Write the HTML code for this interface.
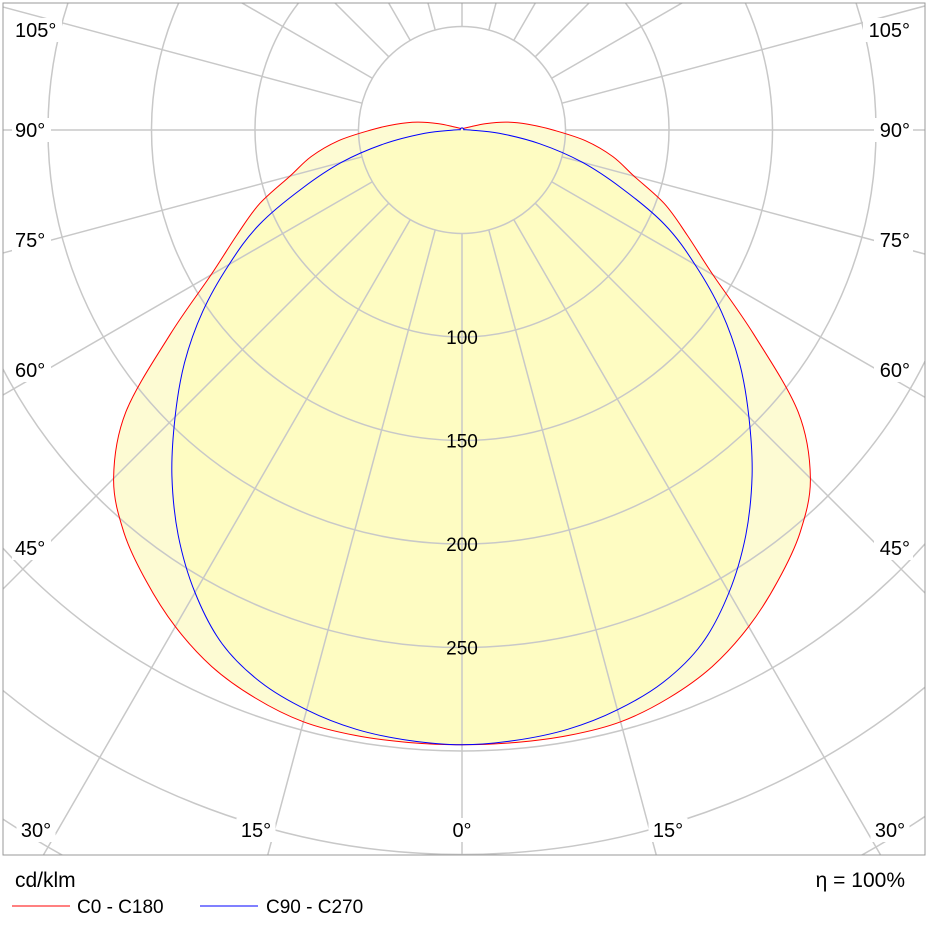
<!DOCTYPE html>
<html><head><meta charset="utf-8"><style>
html,body{margin:0;padding:0;background:#fff;width:927px;height:926px;overflow:hidden;}
svg{display:block;position:absolute;left:0;top:0;font-family:"Liberation Sans",sans-serif;}
</style></head><body>
<svg id="chart" width="927" height="926" viewBox="0 0 927 926" xmlns="http://www.w3.org/2000/svg">
<defs><clipPath id="clip"><rect x="3" y="3" width="922" height="852"/></clipPath></defs>
<rect x="0" y="0" width="927" height="926" fill="#fff"/>
<g id="plot" clip-path="url(#clip)"></g>
<rect x="3" y="3" width="922" height="852" fill="none" stroke="#999" stroke-width="1"/>
<g id="labels"></g>
<text x="15" y="887" font-size="21" fill="#000">cd/klm</text>
<text x="905" y="887" font-size="21" fill="#000" text-anchor="end">η =  100%</text>
<line x1="12" y1="906" x2="70" y2="906" stroke="#f00" stroke-width="1"/>
<text x="77" y="913" font-size="19">C0 - C180</text>
<line x1="200" y1="906" x2="258" y2="906" stroke="#00f" stroke-width="1"/>
<text x="266" y="913" font-size="19">C90 - C270</text>
</svg>
<script>
const angles = [0,5,10,15,20,25,30,35,40,45,50,55,60,65,70,75,80,85,90,95,100,105,110,120,140,160,180];
const seriesC0 = [297,297,297,296,292,286,277,266,254,238,212,172,140,120,104,86,74,60,44,32,22,12,5,2,1,1,1];
const seriesC90 = [297,296,294,290,284,274,258,239,218,196,175,153,130,108,82,60,38,18,4,1,1,1,1,1,1,1,1];
const ringValues = [50,100,150,200,250,300,350,400,450,500];
const ringLabels = ["100","150","200","250"];
const angleLabelsSide = ["105°","90°","75°","60°","45°"];
const angleLabelsBottom = ["30°","15°","0°","15°","30°"];

const NS="http://www.w3.org/2000/svg";
const cx=462, cy=130, k=2.07;
const rS=v=>v*k;
function pt(a,v,side){const t=a*Math.PI/180;return [cx+side*rS(v)*Math.sin(t), cy+rS(v)*Math.cos(t)];}
function mk(tag,attrs,parent){const e=document.createElementNS(NS,tag);for(const k in attrs)e.setAttribute(k,attrs[k]);parent.appendChild(e);return e;}
const plot=document.getElementById('plot');
function curvePath(vals){
  const p=[];
  for(let i=0;i<angles.length;i++)p.push(pt(angles[i],vals[i],1));
  for(let i=angles.length-2;i>0;i--)p.push(pt(angles[i],vals[i],-1));
  const n=p.length;
  let d='M'+p[0][0].toFixed(1)+','+p[0][1].toFixed(1);
  for(let i=0;i<n;i++){
    const p0=p[(i-1+n)%n],p1=p[i],p2=p[(i+1)%n],p3=p[(i+2)%n];
    const c1=[p1[0]+(p2[0]-p0[0])/6,p1[1]+(p2[1]-p0[1])/6];
    const c2=[p2[0]-(p3[0]-p1[0])/6,p2[1]-(p3[1]-p1[1])/6];
    d+='C'+c1[0].toFixed(1)+','+c1[1].toFixed(1)+' '+c2[0].toFixed(1)+','+c2[1].toFixed(1)+' '+p2[0].toFixed(1)+','+p2[1].toFixed(1);
  }
  return d+'Z';
}
const f1=mk('path',{d:curvePath(seriesC0),fill:'#fdfbd3',stroke:'none'},plot);


const f2=mk('path',{d:curvePath(seriesC90),fill:'#fefcc2',stroke:'none'},plot);


const grid=mk('g',{stroke:'#c8c8c8','stroke-width':'1.5',fill:'none'},plot);


ringValues.forEach(v=>{
  const c=mk('circle',{cx:cx,cy:cy,r:rS(v)},grid);
  
  
});
for(let a=0;a<=180;a+=15){
  [1,-1].forEach(s=>{
    if((a===0||a===180)&&s===-1)return;
    const p0=pt(a,50,s),p1=pt(a,800,s);
    const l=mk('line',{x1:p0[0],y1:p0[1],x2:p1[0],y2:p1[1]},grid);
    
    
  });
}
const c0=mk('path',{d:curvePath(seriesC0),fill:'none',stroke:'#f00','stroke-width':'1'},plot);


const c90=mk('path',{d:curvePath(seriesC90),fill:'none',stroke:'#00f','stroke-width':'1'},plot);


const lab=document.getElementById('labels');
ringLabels.forEach(t=>{
  const y=cy+rS(+t);
  const e=mk('text',{x:cx,y:y+7,'font-size':'19','text-anchor':'middle'},lab);
  e.textContent=t;
  
  
});
const sideY=[37,137,247,377,555];
angleLabelsSide.forEach((t,i)=>{
  [[15,'start'],[910,'end']].forEach(([x,anc])=>{
    const w=t.length*11+6;
    mk('rect',{x:anc==='start'?x-3:x-w+3,y:sideY[i]-19,width:w,height:24,fill:'#fff'},lab);
    const e=mk('text',{x:x,y:sideY[i],'font-size':'20','text-anchor':anc},lab);
    e.textContent=t;
    
    
  });
});
const botX=[36,256,462,668,890];
angleLabelsBottom.forEach((t,i)=>{
  const w=t.length*11+6;
  mk('rect',{x:botX[i]-w/2,y:818,width:w,height:24,fill:'#fff'},lab);
  const e=mk('text',{x:botX[i],y:837,'font-size':'20','text-anchor':'middle'},lab);
  e.textContent=t;
  
  
});
</script>
</body></html>
